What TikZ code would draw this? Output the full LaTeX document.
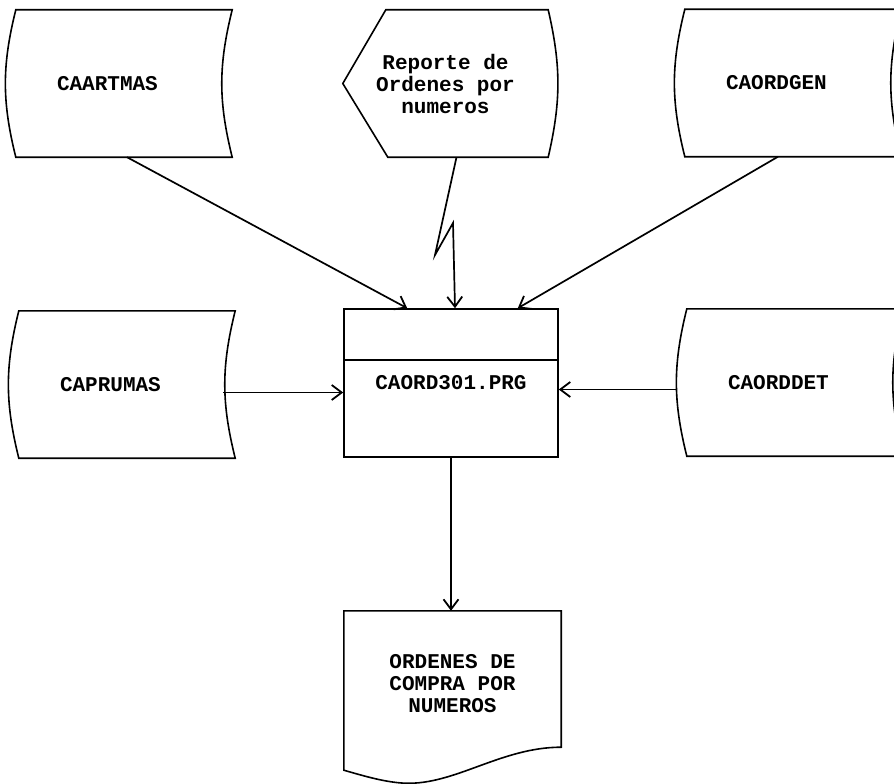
\documentclass[tikz,border=0pt]{standalone}
\usepackage{fontspec}
\usetikzlibrary{arrows.meta}
\newfontfamily\dotfont{Liberation Mono}
% archivo (stored data)
\newcommand\storeshape[1]{%
  \draw[shape line] (#1.north west) -- (#1.north east)
    to[bend right=14] (#1.south east) -- (#1.south west)
    to[bend left=14] (#1.north west) -- cycle;%
}
% pantalla (display)
\newcommand\dispshape[1]{%
  \draw[shape line] (#1.west) -- ([xshift=43pt]#1.north west)
    -- (#1.north east) to[bend left=13] (#1.south east)
    -- ([xshift=45pt]#1.south west) -- cycle;%
}
% documento impreso
\newcommand\docshape[1]{%
  \draw[shape line] (#1.north west) -- (#1.north east)
    -- ([yshift=10pt]#1.south east)
    .. controls +(-60,0) and +(50,2) .. ([xshift=61pt,yshift=-26pt]#1.south west)
    .. controls +(-20,-1) and +(21,6) .. ([yshift=-13pt]#1.south west)
    -- cycle;%
}

\begin{document}
\begin{tikzpicture}[x=1pt,y=-1pt,
    every node/.style={font=\dotfont\bfseries\fontsize{21pt}{22pt}\selectfont},
    shape line/.style={line width=1.6pt},
    store/.style={text width=134pt,inner xsep=41pt,inner ysep=0pt,
      minimum height=147pt,align=left},
    disp/.style={minimum width=205pt,minimum height=147pt,align=center},
    prog/.style={draw,shape line,minimum width=214pt,minimum height=148pt},
    docu/.style={minimum width=217pt,minimum height=146pt,align=center},
    flow/.style={-{Straight Barb[length=10pt,width=15pt,line width=1.8pt]},line width=1.7pt}]
    \useasboundingbox (0,0) rectangle (894,784);
    \clip (0,0) rectangle (894,784);

    % archivos de entrada
    \node[store] (artmas) at (124,83.5) {CAARTMAS};
    \node[store] (ordgen) at (793,83) {CAORDGEN};
    \node[store] (prumas) at (127,384.5) {CAPRUMAS};
    \node[store] (orddet) at (795,382.5) {CAORDDET};
    \foreach \Nm in {artmas,ordgen,prumas,orddet}
      \storeshape{\Nm};

    \node[disp] (rep) at (445.5,83.5) {Reporte de\\Ordenes por\\numeros};
    \dispshape{rep};

    % programa
    \node[prog] (prg) at (451,383) {CAORD301.PRG};
    \draw[shape line] ([yshift=-52pt]prg.north west)
      -- ([yshift=-52pt]prg.north east);

    \node[docu] (doc) at (452.5,684) {ORDENES DE\\COMPRA POR\\NUMEROS};
    \docshape{doc};

    % flujos
    \draw[flow] ([xshift=3pt]artmas.south) -- ([xshift=64pt]prg.north west);
    \draw[flow] ([xshift=11pt]rep.south) -- (435,255) -- (453,223)
      -- ([xshift=4pt]prg.north);
    \draw[flow] ([xshift=-15pt]ordgen.south) -- ([xshift=-41pt]prg.north east);
    \draw[flow] ([xshift=-12pt,yshift=-8pt]prumas.east)
      -- ([yshift=-8pt]prumas.east -| prg.west);
    \draw[flow] ([xshift=-11pt,yshift=-7pt]orddet.west)
      -- ([yshift=-7pt]orddet.west -| prg.east);
    \draw[flow] (prg.south) -- (prg.south |- doc.north);
\end{tikzpicture}
\end{document}
